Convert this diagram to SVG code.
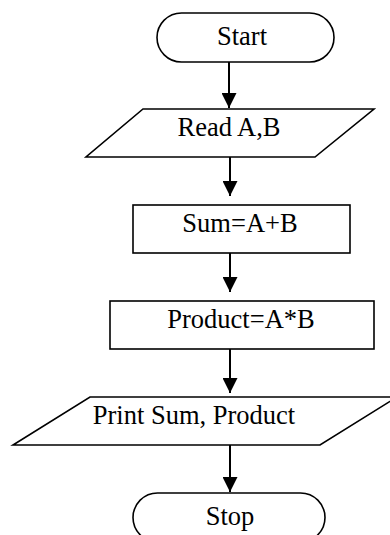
<svg xmlns="http://www.w3.org/2000/svg" width="390" height="535" viewBox="0 0 390 535">
<defs>
<marker id="ah" markerWidth="16" markerHeight="15" refX="15" refY="7.5" orient="auto" markerUnits="userSpaceOnUse">
<path d="M0,0 L15,7.5 L0,15 Z" fill="#000"/>
</marker>
</defs>
<style>
.shape{fill:#fff;stroke:#000;stroke-width:1.6}
.lbl{font-family:"Liberation Serif","Times New Roman",serif;font-size:26.5px;fill:#000}
.c{text-anchor:middle}
.edge{stroke:#000;stroke-width:2;fill:none}
</style>
<rect width="390" height="535" fill="#fff"/>
<g id="connectors">
<line class="edge" x1="229" y1="62" x2="229" y2="108" marker-end="url(#ah)"/>
<line class="edge" x1="230" y1="157" x2="230" y2="196" marker-end="url(#ah)"/>
<line class="edge" x1="230" y1="253" x2="230" y2="292" marker-end="url(#ah)"/>
<line class="edge" x1="230" y1="349" x2="230" y2="393" marker-end="url(#ah)"/>
<line class="edge" x1="230" y1="445" x2="230" y2="492" marker-end="url(#ah)"/>
</g>
<g id="start">
<rect class="shape" x="157" y="13" width="177" height="49" rx="24.5" ry="24.5"/>
<text class="lbl c" x="242" y="45">Start</text>
</g>
<g id="read">
<polygon class="shape" points="143,109 374,109 315,157 86,157"/>
<text class="lbl c" x="229" y="136">Read A,B</text>
</g>
<g id="sum">
<rect class="shape" x="133" y="205" width="217" height="48"/>
<text class="lbl c" x="240" y="232">Sum=A+B</text>
</g>
<g id="product">
<rect class="shape" x="110" y="301" width="264" height="48"/>
<text class="lbl c" x="241" y="328">Product=A*B</text>
</g>
<g id="print">
<polygon class="shape" points="90,397 397,397 320,445 13,445"/>
<text class="lbl c" x="194" y="424">Print Sum, Product</text>
</g>
<g id="stop">
<rect class="shape" x="133" y="493" width="192" height="49" rx="24.5" ry="24.5"/>
<text class="lbl c" x="230" y="525">Stop</text>
</g>
</svg>
